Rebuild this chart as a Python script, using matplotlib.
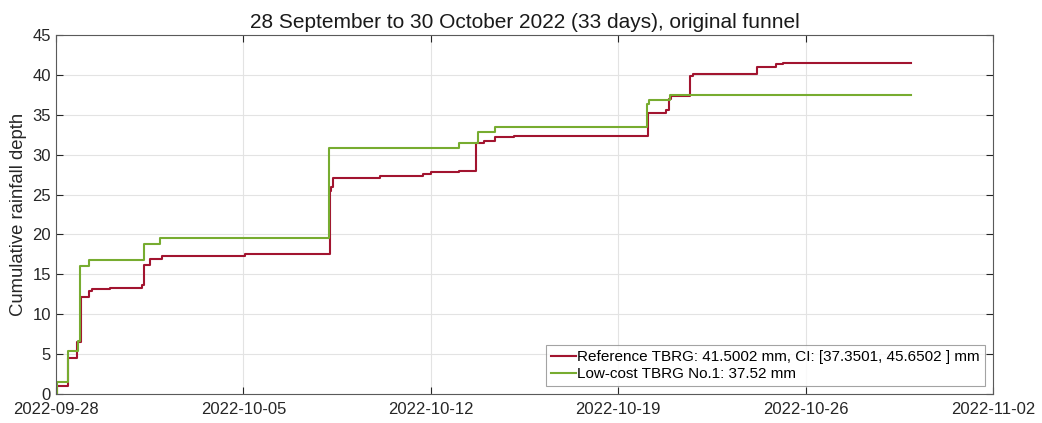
import numpy as np
import matplotlib
matplotlib.use('Agg')
import matplotlib.pyplot as plt
import matplotlib.dates as mdates
from datetime import datetime, timedelta

plt.rcParams['font.family'] = ['Liberation Sans', 'DejaVu Sans']

start = datetime(2022, 9, 28)

# cumulative depth (mm) after each tip, time in days from 28 Sep 00:00
ref_days = [0.0, 0.05, 0.45, 0.8, 0.92, 1.25, 1.35, 2.0, 3.2, 3.3, 3.5, 3.95,
            7.05, 10.22, 10.28, 10.35, 12.1, 13.7, 14.0, 15.05, 15.7, 16.0,
            16.4, 17.1, 22.1, 22.8, 22.9, 22.97, 23.67, 23.8, 26.2, 26.9,
            27.15, 31.95]
ref_depth = [0.0, 1.0, 4.5, 6.5, 12.2, 12.9, 13.1, 13.3, 13.7, 16.2, 16.9, 17.3,
             17.5, 25.5, 26.0, 27.1, 27.3, 27.6, 27.8, 28.0, 31.4, 31.7,
             32.2, 32.4, 35.2, 35.6, 37.0, 37.3, 39.9, 40.1, 41.0, 41.3,
             41.5002, 41.5002]

lc_days = [0.0, 0.05, 0.45, 0.82, 0.9, 1.25, 3.3, 3.9, 10.2, 15.05, 15.75,
           16.4, 22.07, 22.15, 22.95, 31.95]
lc_depth = [0.0, 1.5, 5.4, 6.6, 16.0, 16.8, 18.8, 19.5, 30.8, 31.5, 32.9,
            33.5, 36.3, 36.9, 37.52, 37.52]

ref_label = 'Reference TBRG: 41.5002 mm, CI: [37.3501, 45.6502 ] mm'
lc_label = 'Low-cost TBRG No.1: 37.52 mm'
tick_dates = [start + timedelta(days=7 * i) for i in range(6)]


def to_dates(days):
    return [start + timedelta(days=d) for d in days]


fig = plt.figure(figsize=(10.42, 4.23), dpi=100)
ax = fig.add_axes([0.0537, 0.0686, 0.8993, 0.8487])

ax.plot(to_dates(ref_days), ref_depth, drawstyle='steps-post',
        color='#A2142F', lw=1.5, label=ref_label)
ax.plot(to_dates(lc_days), lc_depth, drawstyle='steps-post',
        color='#77AC30', lw=1.5, label=lc_label)

ax.set_xlim(tick_dates[0], tick_dates[-1])
ax.set_ylim(0, 45)
ax.set_yticks(np.arange(0, 46, 5))
ax.set_xticks(tick_dates)
ax.xaxis.set_major_formatter(mdates.DateFormatter('%Y-%m-%d'))

ax.grid(True, color='#e3e3e3', lw=0.8)
ax.set_axisbelow(True)
ax.tick_params(direction='in', top=True, right=True, length=5,
               labelsize=12, colors='#262626', width=0.8)
ax.tick_params(axis='x', pad=6)
for s in ax.spines.values():
    s.set_color('#5a5a5a')
    s.set_linewidth(0.8)

ax.set_ylabel('Cumulative rainfall depth', fontsize=13.3, color='#262626')
ax.set_title('28 September to 30 October 2022 (33 days), original funnel',
             fontsize=15, color='#1a1a1a', pad=5)

leg = ax.legend(loc='lower right', fontsize=11, frameon=True, fancybox=False,
                edgecolor='#8c8c8c', handlelength=1.6, handletextpad=0.1,
                borderpad=0.35, labelspacing=0.2, borderaxespad=0.5)
leg.get_frame().set_linewidth(0.8)

fig.savefig('out.png', dpi=100)
